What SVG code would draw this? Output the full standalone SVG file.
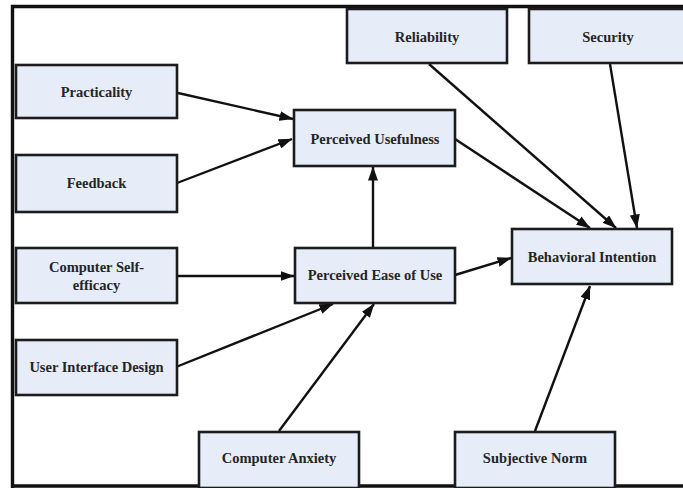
<svg xmlns="http://www.w3.org/2000/svg" width="683" height="488" viewBox="0 0 683 488">
  <style>
    .box { fill: #e6edf8; stroke: #1c1c1c; stroke-width: 2.6; }
    .lbl { font-family: "Liberation Serif", "Times New Roman", serif; font-weight: bold; font-size: 14.5px; fill: #252525; text-anchor: middle; }
    .edge { stroke: #111; stroke-width: 2.4; fill: none; marker-end: url(#arrow); }
    .frame { fill: none; stroke: #111; stroke-width: 3.4; }
  </style>
  <defs>
    <!-- solid triangular arrowhead shared by all connectors -->
    <marker id="arrow" viewBox="0 0 14 10" refX="13.5" refY="5" markerWidth="14" markerHeight="10" markerUnits="userSpaceOnUse" orient="auto">
      <path d="M0,0 L14,5 L0,10 Z" fill="#111"/>
    </marker>
  </defs>

  <rect x="0" y="0" width="683" height="488" fill="#ffffff"/>
  <!-- outer frame -->
  <path class="frame" d="M12.5,488 V6.5 H683 M12.5,486 H683"/>

  <!-- connectors -->
  <g id="connectors">
    <line class="edge" x1="178" y1="93" x2="293" y2="119"/>
    <line class="edge" x1="177" y1="183" x2="292" y2="139"/>
    <line class="edge" x1="373" y1="248" x2="373" y2="167"/>
    <line class="edge" x1="177" y1="276" x2="294" y2="276"/>
    <line class="edge" x1="176" y1="367" x2="333" y2="304"/>
    <line class="edge" x1="279" y1="431" x2="374" y2="304"/>
    <line class="edge" x1="455" y1="275" x2="511" y2="258"/>
    <line class="edge" x1="455" y1="139" x2="590" y2="228"/>
    <line class="edge" x1="429" y1="64" x2="616" y2="228"/>
    <line class="edge" x1="610" y1="64" x2="637" y2="228"/>
    <line class="edge" x1="535" y1="431" x2="590" y2="286"/>
  </g>

  <g id="reliability">
    <rect class="box" x="347" y="9" width="160" height="54"/>
    <text class="lbl" x="427" y="42">Reliability</text>
  </g>
  <g id="security">
    <rect class="box" x="529" y="9" width="160" height="54"/>
    <text class="lbl" x="608" y="42">Security</text>
  </g>
  <g id="practicality">
    <rect class="box" x="16" y="65" width="161" height="53"/>
    <text class="lbl" x="96.5" y="97">Practicality</text>
  </g>
  <g id="perceived-usefulness">
    <rect class="box" x="294" y="110" width="161" height="56"/>
    <text class="lbl" x="375" y="144">Perceived Usefulness</text>
  </g>
  <g id="feedback">
    <rect class="box" x="16" y="155" width="161" height="57"/>
    <text class="lbl" x="96.5" y="188">Feedback</text>
  </g>
  <g id="computer-self-efficacy">
    <rect class="box" x="16" y="248" width="161" height="55"/>
    <text class="lbl" x="96.5" y="272">Computer Self-</text>
    <text class="lbl" x="96.5" y="290">efficacy</text>
  </g>
  <g id="perceived-ease-of-use">
    <rect class="box" x="295" y="248" width="160" height="55"/>
    <text class="lbl" x="375" y="280">Perceived Ease of Use</text>
  </g>
  <g id="behavioral-intention">
    <rect class="box" x="512" y="229" width="160" height="55"/>
    <text class="lbl" x="592" y="262">Behavioral Intention</text>
  </g>
  <g id="user-interface-design">
    <rect class="box" x="16" y="340" width="161" height="55"/>
    <text class="lbl" x="96.5" y="372">User Interface Design</text>
  </g>
  <g id="computer-anxiety">
    <rect class="box" x="199" y="432" width="160" height="56"/>
    <text class="lbl" x="279" y="463">Computer Anxiety</text>
  </g>
  <g id="subjective-norm">
    <rect class="box" x="455" y="432" width="160" height="56"/>
    <text class="lbl" x="535" y="463">Subjective Norm</text>
  </g>
</svg>
